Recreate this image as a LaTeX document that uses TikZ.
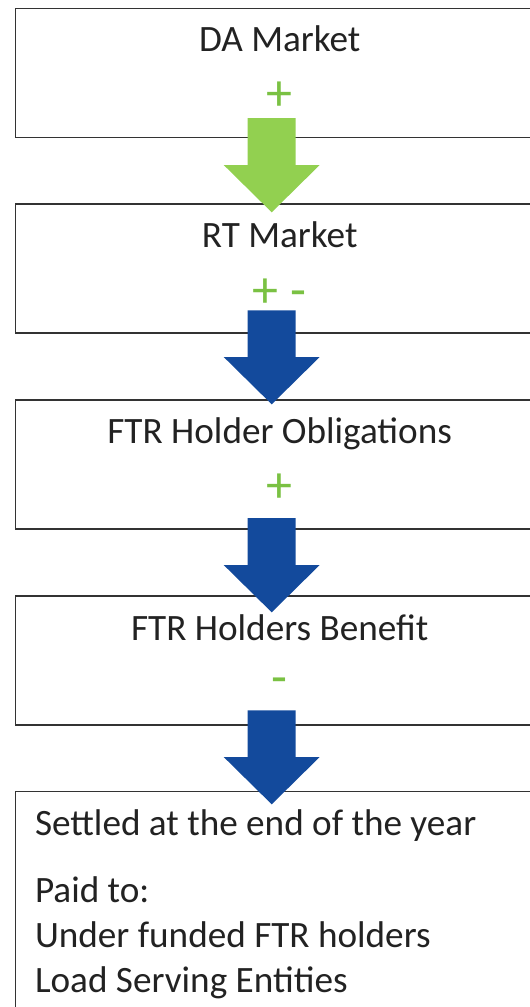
\documentclass[tikz,border=0pt]{standalone}
\usepackage{fontspec}
\setmainfont{Carlito}
\usetikzlibrary{calc}
\definecolor{txt}{HTML}{222222}
\definecolor{boxline}{HTML}{333333}
\definecolor{lgreen}{HTML}{92D050}
\definecolor{dblue}{HTML}{134A9C}
\definecolor{sgreen}{HTML}{7AC143}
\tikzset{
  box/.style={draw=boxline, line width=1.4pt, minimum width=528pt, minimum height=129pt, anchor=north west, inner sep=0pt},
  title/.style={anchor=base, font=\fontsize{37.2}{45}\selectfont, text=txt, inner sep=0pt},
  sign/.style={anchor=center, font=\fontsize{52}{52}\selectfont, text=sgreen, inner sep=0pt},
}
\newcommand{\blockarrow}[3]{%
  \fill[#3] let \p1=(#1), \p2=(#2) in
    (\x1-24pt,\y1) -- (\x1+24pt,\y1) -- (\x1+24pt,\y2+47.3pt) -- (\x1+48pt,\y2+47.3pt)
    -- (\x2,\y2) -- (\x1-48pt,\y2+47.3pt) -- (\x1-24pt,\y2+47.3pt) -- cycle;}
\begin{document}
\begin{tikzpicture}[x=1pt,y=1pt]
\useasboundingbox (0,0) rectangle (530,-1007);
\clip (0,0) rectangle (530,-1007);
% boxes
\node[box] (b1) at (15,-7.5) {};
\node[box] (b2) at (15,-203.3) {};
\node[box] (b3) at (15,-399.3) {};
\node[box] (b4) at (15,-595.2) {};
\node[box, minimum height=240pt] (b5) at (15,-790.7) {};
% titles
\node[title] (t1) at ($(b1.north)+(0,-44.2)$) {DA Market};
\node[title] (t2) at ($(b2.north)+(0,-44.2)$) {RT Market};
\node[title] (t3) at ($(b3.north)+(0,-44.2)$) {FTR Holder Obligations};
\node[title] (t4) at ($(b4.north)+(0,-44.8)$) {FTR Holders Benefit};
\node[anchor=base west, align=left, text=txt, inner sep=0pt, font=\fontsize{37.2}{45}\selectfont] (t5) at (34.8,-992.3)
  {Settled at the end of the year\\[21.7pt]Paid to:\\Under funded FTR holders\\Load Serving Entities};
% signs
\node[sign] (s1) at ($(b1.north)+(0,-89.2)$) {+};
\node[sign] (s2) at ($(b2.north)+(0,-89.5)$) {+ -};
\node[sign] (s3) at ($(b3.north)+(0,-89)$) {+};
\node[sign] (s4) at ($(b4.north)+(0,-91.5)$) {-};
% arrows
\coordinate (a1s) at ($(b1.south)+(-8,19.8)$);
\coordinate (a1t) at ($(b2.north)+(-8,-9)$);
\coordinate (a2s) at ($(b2.south)+(-8,23.3)$);
\coordinate (a2t) at ($(b3.north)+(-8,-5)$);
\coordinate (a3s) at ($(b3.south)+(-8,11.6)$);
\coordinate (a3t) at ($(b4.north)+(-8,-17.1)$);
\coordinate (a4s) at ($(b4.south)+(-8,15.3)$);
\coordinate (a4t) at ($(b5.north)+(-8,-13.6)$);
\blockarrow{a1s}{a1t}{lgreen}
\blockarrow{a2s}{a2t}{dblue}
\blockarrow{a3s}{a3t}{dblue}
\blockarrow{a4s}{a4t}{dblue}
\end{tikzpicture}
\end{document}
